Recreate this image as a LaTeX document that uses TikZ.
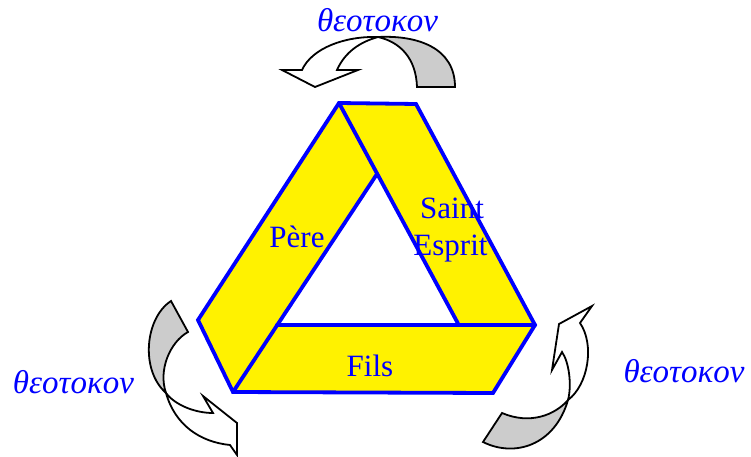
\documentclass[tikz,border=0pt]{standalone}
\usepackage{fontspec}
\setmainfont{Liberation Serif}
\begin{document}
\begin{tikzpicture}[x=1pt,y=-1pt,
  edge/.style={draw=blue, line width=3.8pt, line join=miter, line cap=round},
  arrowback/.style={fill=black!20, draw=black, line width=1.8pt, line join=miter},
  arrowfront/.style={fill=white, draw=black, line width=1.8pt, line join=miter},
  lbl/.style={text=blue, font=\fontsize{31}{37}\selectfont, anchor=base, inner sep=0pt},
  greek/.style={text=blue, font=\fontsize{33}{38}\selectfont\itshape, anchor=base, inner sep=0pt}]
\useasboundingbox (0,0) rectangle (751,457);
% triangle
\coordinate (A) at (339,103);
\coordinate (B) at (416,104);
\coordinate (C) at (535,325);
\coordinate (D) at (458,323.5);
\coordinate (E) at (493,393);
\coordinate (F) at (233,392);
\coordinate (G) at (198,320);
\coordinate (H) at (377,174);
\coordinate (K) at (277,325);
\fill[yellow] (A)--(B)--(C)--(E)--(F)--(G)--cycle;
\fill[white] (H)--(D)--(K)--cycle;
\draw[edge] (A)--(B)--(C)--(E)--(F)--(G)--cycle;
\draw[edge] (A)--(D);
\draw[edge] (F)--(H);
\draw[edge] (K)--(C);
% top arrow
\draw[arrowback] (455,87) .. controls (455,48) and (418,35) .. (378,37)
  .. controls (400,42) and (416,58) .. (417,87) -- cycle;
\draw[arrowfront] (378,37) .. controls (345,36) and (312,48) .. (302,70)
  -- (282,70) -- (315,87) -- (358,70) -- (337,70)
  .. controls (345,52) and (360,42) .. (378,37) -- cycle;
% bottom-left arrow
\draw[arrowback] (171,301) .. controls (145,318) and (140,370) .. (166,393)
  .. controls (158,370) and (170,342) .. (188,332) -- cycle;
\draw[arrowfront] (166,393) .. controls (175,405) and (195,413) .. (213,413)
  -- (203,396) -- (237,423) -- (237,455) -- (230,445)
  .. controls (200,442) and (175,425) .. (166,393) -- cycle;
% bottom-right arrow
\draw[arrowback] (483,442) .. controls (515,458) and (555,445) .. (568,400)
  .. controls (555,415) and (530,425) .. (502,413) -- cycle;
\draw[arrowfront] (568,400) .. controls (588,385) and (595,345) .. (580,323)
  -- (592,306) -- (559,324) -- (552,370) -- (562,352)
  .. controls (569,362) and (572,385) .. (568,400) -- cycle;
% labels
\node[lbl] (pere) at (297,247) {Père};
\node[lbl] (saint) at (452,218.5) {Saint};
\node[lbl] (esprit) at (450.5,255.5) {Esprit};
\node[lbl] (fils) at (370,376) {Fils};
\node[greek] (gtop) at (377.5,32) {θεοτοκον};
\node[greek] (gleft) at (73.5,393) {θεοτοκον};
\node[greek] (gright) at (684,382) {θεοτοκον};
\end{tikzpicture}
\end{document}
